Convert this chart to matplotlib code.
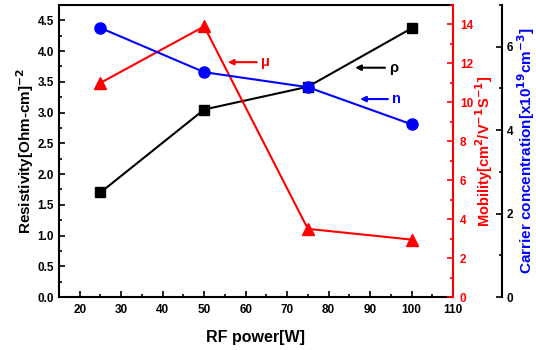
import matplotlib
matplotlib.use("Agg")
import matplotlib.pyplot as plt
from matplotlib.ticker import MultipleLocator

plt.rcParams['font.family'] = ['Liberation Sans', 'DejaVu Sans']
plt.rcParams['font.weight'] = 'bold'

rf_power = [25, 50, 75, 100]
resistivity = [1.70, 3.05, 3.42, 4.37]
mobility = [11.0, 13.9, 3.5, 2.95]
carrier = [6.45, 5.39, 5.03, 4.14]

fig = plt.figure(figsize=(5.36, 3.5), dpi=100)
ax = fig.add_axes([59/536, 53/350, 394/536, 292/350])
ax2 = ax.twinx()
ax3 = ax.twinx()

lw = 1.5
ax.plot(rf_power, resistivity, color='black', marker='s', markersize=7, lw=lw, zorder=3)
ax2.plot(rf_power, mobility, color='red', marker='^', markersize=9, lw=lw, zorder=3)
ax3.plot(rf_power, carrier, color='blue', marker='o', markersize=8, lw=lw, zorder=3)

ax.set_xlim(15, 110)
ax.set_ylim(0, 4.75)
ax2.set_ylim(0, 15)
ax3.set_ylim(0, 7)

ax.xaxis.set_major_locator(MultipleLocator(10))
ax.xaxis.set_minor_locator(MultipleLocator(5))
ax.yaxis.set_major_locator(MultipleLocator(0.5))
ax.yaxis.set_minor_locator(MultipleLocator(0.25))
ax2.yaxis.set_major_locator(MultipleLocator(2))
ax2.yaxis.set_minor_locator(MultipleLocator(1))
ax3.yaxis.set_major_locator(MultipleLocator(2))
ax3.yaxis.set_minor_locator(MultipleLocator(1))

for a in (ax, ax2, ax3):
    for s in a.spines.values():
        s.set_linewidth(1.5)
    a.tick_params(which='both', direction='in', width=1.2, labelsize=8.5)
    a.tick_params(which='major', length=4)
    a.tick_params(which='minor', length=2.5)
ax.tick_params(axis='x', which='major', pad=5)
ax2.tick_params(axis='y', which='major', pad=5)

ax.spines['right'].set_visible(False)
ax3.spines['left'].set_visible(False)
ax2.spines['left'].set_visible(False)
ax2.spines['top'].set_visible(False)
ax3.spines['top'].set_visible(False)
ax3.spines['bottom'].set_visible(False)
ax2.spines['bottom'].set_visible(False)
ax2.spines['right'].set_color('red')
ax2.tick_params(axis='y', which='both', colors='red')
ax3.spines['right'].set_position(('axes', 1 + 49/394))
ax3.spines['right'].set_color('black')

ax.set_xlabel('RF power[W]', fontsize=11.5, fontweight='bold', labelpad=10)
ax.set_ylabel('Resistivity[Ohm-cm]$^{\\mathbf{-2}}$', fontsize=11, fontweight='bold', labelpad=1)
ax2.set_ylabel('Mobility[cm$^{\\mathbf{2}}$/V$^{\\mathbf{-1}}$S$^{\\mathbf{-1}}$]', fontsize=10.5,
               fontweight='bold', color='red', labelpad=0)
ax3.set_ylabel('Carrier concentration[x10$^{\\mathbf{19}}$cm$^{\\mathbf{-3}}$]', fontsize=11,
               fontweight='bold', color='blue', labelpad=1)

ap = dict(arrowstyle='-|>', lw=1.5, mutation_scale=8, shrinkA=0, shrinkB=0)
ax.annotate('', xy=(55.7, 3.82), xytext=(62.7, 3.82), arrowprops=dict(ap, color='red'))
ax.text(63.6, 3.82, 'μ', color='red', fontsize=10.5, fontweight='bold', va='center', ha='left')
ax.annotate('', xy=(86.4, 3.73), xytext=(93.6, 3.73), arrowprops=dict(ap, color='black'))
ax.text(94.5, 3.73, 'ρ', color='black', fontsize=10.5, fontweight='bold', va='center', ha='left')
ax.annotate('', xy=(87.6, 3.22), xytext=(94.3, 3.22), arrowprops=dict(ap, color='blue'))
ax.text(95.2, 3.22, 'n', color='blue', fontsize=10.5, fontweight='bold', va='center', ha='left')

fig.savefig('out.png', dpi=100)
